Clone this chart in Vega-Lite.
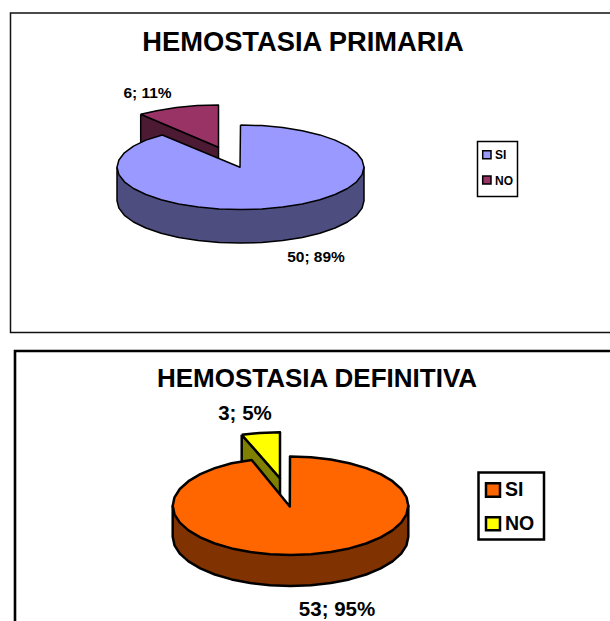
{"$schema":"https://vega.github.io/schema/vega-lite/v6.json","width":610,"height":621,"padding":0,"autosize":{"type":"fit","contains":"padding"},"background":"white","config":{"view":{"stroke":null},"axis":{"disable":true}},
"datasets":{
"frames":[{"name":"primaria","x":10.5,"x2":640,"y":13,"y2":332.5},{"name":"definitiva","x":15,"x2":640,"y":351,"y2":660}],
"legendBoxes":[{"name":"primaria","x":477.5,"x2":517.5,"y":141.5,"y2":196.5},{"name":"definitiva","x":478.5,"x2":544,"y":472.5,"y2":539.5}],
"swatches":[{"slice":"Primaria SI","x":482.7,"x2":491,"y":150.7,"y2":158.7},{"slice":"Primaria NO","x":482.7,"x2":491,"y":176,"y2":184},{"slice":"Definitiva SI","x":486,"x2":500,"y":483.3,"y2":496.7},{"slice":"Definitiva NO","x":486,"x2":500,"y":517.3,"y2":530.3}],
"texts":[
{"g":"t1","text":"HEMOSTASIA PRIMARIA","x":303,"y":43},
{"g":"t2","text":"HEMOSTASIA DEFINITIVA","x":317,"y":378.5},
{"g":"l1","text":"6; 11%","x":147.5,"y":92.5},
{"g":"l1","text":"50; 89%","x":316,"y":256.5},
{"g":"l2","text":"3; 5%","x":245,"y":414},
{"g":"l2","text":"53; 95%","x":337,"y":610},
{"g":"k1","text":"SI","x":495,"y":154.5},
{"g":"k1","text":"NO","x":495,"y":180.5},
{"g":"k2","text":"SI","x":505,"y":490},
{"g":"k2","text":"NO","x":505,"y":524}],
"pie1":[
{"face":"Primaria NO lado","i":0,"x":140.7,"y":114.3},{"face":"Primaria NO lado","i":1,"x":218.5,"y":147.3},{"face":"Primaria NO lado","i":2,"x":218.5,"y":165},{"face":"Primaria NO lado","i":3,"x":140.7,"y":150},{"face":"Primaria NO lado","i":4,"x":140.7,"y":114.3},
{"face":"Primaria NO","i":0,"x":140.7,"y":114.3},{"face":"Primaria NO","i":1,"x":156.7,"y":110.7},{"face":"Primaria NO","i":2,"x":176.3,"y":107.6},{"face":"Primaria NO","i":3,"x":197.1,"y":105.6},{"face":"Primaria NO","i":4,"x":218.5,"y":105},{"face":"Primaria NO","i":5,"x":218.5,"y":147.3},{"face":"Primaria NO","i":6,"x":140.7,"y":114.3},
{"face":"Primaria SI lado","i":0,"x":117,"y":167.3},{"face":"Primaria SI lado","i":1,"x":117,"y":200.8},{"face":"Primaria SI lado","i":2,"x":118.9,"y":208.1},{"face":"Primaria SI lado","i":3,"x":124.4,"y":215.3},{"face":"Primaria SI lado","i":4,"x":133.5,"y":222},{"face":"Primaria SI lado","i":5,"x":145.9,"y":228},{"face":"Primaria SI lado","i":6,"x":161.1,"y":233.2},{"face":"Primaria SI lado","i":7,"x":178.7,"y":237.4},{"face":"Primaria SI lado","i":8,"x":198.3,"y":240.5},{"face":"Primaria SI lado","i":9,"x":219.1,"y":242.5},{"face":"Primaria SI lado","i":10,"x":240.5,"y":243.1},{"face":"Primaria SI lado","i":11,"x":261.9,"y":242.5},{"face":"Primaria SI lado","i":12,"x":282.7,"y":240.5},{"face":"Primaria SI lado","i":13,"x":302.3,"y":237.4},{"face":"Primaria SI lado","i":14,"x":319.9,"y":233.2},{"face":"Primaria SI lado","i":15,"x":335.1,"y":228},{"face":"Primaria SI lado","i":16,"x":347.5,"y":222},{"face":"Primaria SI lado","i":17,"x":356.6,"y":215.3},{"face":"Primaria SI lado","i":18,"x":362.1,"y":208.1},{"face":"Primaria SI lado","i":19,"x":364,"y":200.8},{"face":"Primaria SI lado","i":20,"x":364,"y":167.3},{"face":"Primaria SI lado","i":21,"x":117,"y":167.3},
{"face":"Primaria SI","i":0,"x":240.5,"y":125},{"face":"Primaria SI","i":1,"x":261.9,"y":125.6},{"face":"Primaria SI","i":2,"x":282.7,"y":127.6},{"face":"Primaria SI","i":3,"x":302.3,"y":130.7},{"face":"Primaria SI","i":4,"x":319.9,"y":134.9},{"face":"Primaria SI","i":5,"x":335.1,"y":140.1},{"face":"Primaria SI","i":6,"x":347.5,"y":146.1},{"face":"Primaria SI","i":7,"x":356.6,"y":152.8},{"face":"Primaria SI","i":8,"x":362.1,"y":160},{"face":"Primaria SI","i":9,"x":364,"y":167.3},{"face":"Primaria SI","i":10,"x":362.1,"y":174.6},{"face":"Primaria SI","i":11,"x":356.6,"y":181.8},{"face":"Primaria SI","i":12,"x":347.5,"y":188.5},{"face":"Primaria SI","i":13,"x":335.1,"y":194.5},{"face":"Primaria SI","i":14,"x":319.9,"y":199.7},{"face":"Primaria SI","i":15,"x":302.3,"y":203.9},{"face":"Primaria SI","i":16,"x":282.7,"y":207},{"face":"Primaria SI","i":17,"x":261.9,"y":209},{"face":"Primaria SI","i":18,"x":240.5,"y":209.6},{"face":"Primaria SI","i":19,"x":219.1,"y":209},{"face":"Primaria SI","i":20,"x":198.3,"y":207},{"face":"Primaria SI","i":21,"x":178.7,"y":203.9},{"face":"Primaria SI","i":22,"x":161.1,"y":199.7},{"face":"Primaria SI","i":23,"x":145.9,"y":194.5},{"face":"Primaria SI","i":24,"x":133.5,"y":188.5},{"face":"Primaria SI","i":25,"x":124.4,"y":181.8},{"face":"Primaria SI","i":26,"x":118.9,"y":174.6},{"face":"Primaria SI","i":27,"x":117,"y":167.3},{"face":"Primaria SI","i":28,"x":118.9,"y":160},{"face":"Primaria SI","i":29,"x":124.4,"y":152.8},{"face":"Primaria SI","i":30,"x":133.5,"y":146.1},{"face":"Primaria SI","i":31,"x":145.9,"y":140.1},{"face":"Primaria SI","i":32,"x":162.3,"y":135},{"face":"Primaria SI","i":33,"x":240,"y":167.3},{"face":"Primaria SI","i":34,"x":240.5,"y":125}],
"pie2":[
{"face":"Definitiva NO lado","i":0,"x":241.7,"y":434.7},{"face":"Definitiva NO lado","i":1,"x":280,"y":478.3},{"face":"Definitiva NO lado","i":2,"x":280,"y":500},{"face":"Definitiva NO lado","i":3,"x":241.7,"y":470},{"face":"Definitiva NO lado","i":4,"x":241.7,"y":434.7},
{"face":"Definitiva NO","i":0,"x":241.7,"y":434.7},{"face":"Definitiva NO","i":1,"x":259.5,"y":433},{"face":"Definitiva NO","i":2,"x":280,"y":432.3},{"face":"Definitiva NO","i":3,"x":280,"y":478.3},{"face":"Definitiva NO","i":4,"x":241.7,"y":434.7},
{"face":"Definitiva SI lado","i":0,"x":172.7,"y":505.8},{"face":"Definitiva SI lado","i":1,"x":172.7,"y":536.8},{"face":"Definitiva SI lado","i":2,"x":174.5,"y":545.3},{"face":"Definitiva SI lado","i":3,"x":179.8,"y":553.6},{"face":"Definitiva SI lado","i":4,"x":188.5,"y":561.4},{"face":"Definitiva SI lado","i":5,"x":200.3,"y":568.4},{"face":"Definitiva SI lado","i":6,"x":214.8,"y":574.5},{"face":"Definitiva SI lado","i":7,"x":231.6,"y":579.4},{"face":"Definitiva SI lado","i":8,"x":250.2,"y":583},{"face":"Definitiva SI lado","i":9,"x":270,"y":585.3},{"face":"Definitiva SI lado","i":10,"x":290.5,"y":586},{"face":"Definitiva SI lado","i":11,"x":311,"y":585.3},{"face":"Definitiva SI lado","i":12,"x":330.8,"y":583},{"face":"Definitiva SI lado","i":13,"x":349.4,"y":579.4},{"face":"Definitiva SI lado","i":14,"x":366.2,"y":574.5},{"face":"Definitiva SI lado","i":15,"x":380.7,"y":568.4},{"face":"Definitiva SI lado","i":16,"x":392.5,"y":561.4},{"face":"Definitiva SI lado","i":17,"x":401.2,"y":553.6},{"face":"Definitiva SI lado","i":18,"x":406.5,"y":545.3},{"face":"Definitiva SI lado","i":19,"x":408.3,"y":536.8},{"face":"Definitiva SI lado","i":20,"x":408.3,"y":505.8},{"face":"Definitiva SI lado","i":21,"x":172.7,"y":505.8},
{"face":"Definitiva SI","i":0,"x":290.5,"y":456.6},{"face":"Definitiva SI","i":1,"x":311,"y":457.3},{"face":"Definitiva SI","i":2,"x":330.8,"y":459.6},{"face":"Definitiva SI","i":3,"x":349.4,"y":463.2},{"face":"Definitiva SI","i":4,"x":366.2,"y":468.1},{"face":"Definitiva SI","i":5,"x":380.7,"y":474.2},{"face":"Definitiva SI","i":6,"x":392.5,"y":481.2},{"face":"Definitiva SI","i":7,"x":401.2,"y":489},{"face":"Definitiva SI","i":8,"x":406.5,"y":497.3},{"face":"Definitiva SI","i":9,"x":408.3,"y":505.8},{"face":"Definitiva SI","i":10,"x":406.5,"y":514.3},{"face":"Definitiva SI","i":11,"x":401.2,"y":522.6},{"face":"Definitiva SI","i":12,"x":392.5,"y":530.4},{"face":"Definitiva SI","i":13,"x":380.7,"y":537.4},{"face":"Definitiva SI","i":14,"x":366.2,"y":543.5},{"face":"Definitiva SI","i":15,"x":349.4,"y":548.4},{"face":"Definitiva SI","i":16,"x":330.8,"y":552},{"face":"Definitiva SI","i":17,"x":311,"y":554.3},{"face":"Definitiva SI","i":18,"x":290.5,"y":555},{"face":"Definitiva SI","i":19,"x":270,"y":554.3},{"face":"Definitiva SI","i":20,"x":250.2,"y":552},{"face":"Definitiva SI","i":21,"x":231.6,"y":548.4},{"face":"Definitiva SI","i":22,"x":214.8,"y":543.5},{"face":"Definitiva SI","i":23,"x":200.3,"y":537.4},{"face":"Definitiva SI","i":24,"x":188.5,"y":530.4},{"face":"Definitiva SI","i":25,"x":179.8,"y":522.6},{"face":"Definitiva SI","i":26,"x":174.5,"y":514.3},{"face":"Definitiva SI","i":27,"x":172.7,"y":505.8},{"face":"Definitiva SI","i":28,"x":174.5,"y":497.3},{"face":"Definitiva SI","i":29,"x":179.8,"y":489},{"face":"Definitiva SI","i":30,"x":188.5,"y":481.2},{"face":"Definitiva SI","i":31,"x":200.3,"y":474.2},{"face":"Definitiva SI","i":32,"x":214.8,"y":468.1},{"face":"Definitiva SI","i":33,"x":231.6,"y":463.2},{"face":"Definitiva SI","i":34,"x":251.7,"y":460},{"face":"Definitiva SI","i":35,"x":289.8,"y":506.5},{"face":"Definitiva SI","i":36,"x":290,"y":456.6},{"face":"Definitiva SI","i":37,"x":290.5,"y":456.6}]
},
"encoding":{
"x":{"field":"x","type":"quantitative","scale":{"domain":[0,610],"nice":false,"zero":false},"axis":null},
"y":{"field":"y","type":"quantitative","scale":{"domain":[0,621],"reverse":true,"nice":false,"zero":false},"axis":null}
},
"resolve":{"scale":{"fill":"shared"}},
"layer":[
{"data":{"name":"frames"},"transform":[{"filter":"datum.name=='primaria'"}],"mark":{"type":"rect","fill":"white","stroke":"#111","strokeWidth":1.5,"clip":true},"encoding":{"x2":{"field":"x2"},"y2":{"field":"y2"}}},
{"data":{"name":"frames"},"transform":[{"filter":"datum.name=='definitiva'"}],"mark":{"type":"rect","fill":"white","stroke":"#000","strokeWidth":2.6,"clip":true},"encoding":{"x2":{"field":"x2"},"y2":{"field":"y2"}}},
{"data":{"name":"pie1"},"mark":{"type":"line","filled":true,"stroke":"#000","strokeWidth":1.5,"strokeJoin":"round"},"encoding":{"order":{"field":"i","type":"quantitative"},"detail":{"field":"face"},"fill":{"field":"face","type":"nominal","legend":null,"scale":{"domain":["Primaria SI","Primaria SI lado","Primaria NO","Primaria NO lado","Definitiva SI","Definitiva SI lado","Definitiva NO","Definitiva NO lado"],"range":["#9999FF","#4D4D80","#993366","#4D1A33","#FF6600","#803300","#FFFF00","#808000"]}}}},
{"data":{"name":"pie2"},"mark":{"type":"line","filled":true,"stroke":"#000","strokeWidth":2.5,"strokeJoin":"round"},"encoding":{"order":{"field":"i","type":"quantitative"},"detail":{"field":"face"},"fill":{"field":"face","type":"nominal","legend":null}}},
{"data":{"name":"legendBoxes"},"transform":[{"filter":"datum.name=='primaria'"}],"mark":{"type":"rect","fill":"white","stroke":"#000","strokeWidth":1.5},"encoding":{"x2":{"field":"x2"},"y2":{"field":"y2"}}},
{"data":{"name":"legendBoxes"},"transform":[{"filter":"datum.name=='definitiva'"}],"mark":{"type":"rect","fill":"white","stroke":"#000","strokeWidth":2.5},"encoding":{"x2":{"field":"x2"},"y2":{"field":"y2"}}},
{"data":{"name":"swatches"},"transform":[{"filter":"indexof(datum.slice,'Primaria')==0"}],"mark":{"type":"rect","stroke":"#000","strokeWidth":1.5},"encoding":{"x2":{"field":"x2"},"y2":{"field":"y2"},"fill":{"field":"slice","type":"nominal","legend":null}}},
{"data":{"name":"swatches"},"transform":[{"filter":"indexof(datum.slice,'Definitiva')==0"}],"mark":{"type":"rect","stroke":"#000","strokeWidth":2.5},"encoding":{"x2":{"field":"x2"},"y2":{"field":"y2"},"fill":{"field":"slice","type":"nominal","legend":null}}},
{"data":{"name":"texts"},"transform":[{"filter":"datum.g=='t1'"}],"mark":{"type":"text","font":"Liberation Sans","fontWeight":"bold","fontSize":27.3,"align":"center","baseline":"middle","color":"#000"},"encoding":{"text":{"field":"text"}}},
{"data":{"name":"texts"},"transform":[{"filter":"datum.g=='t2'"}],"mark":{"type":"text","font":"Liberation Sans","fontWeight":"bold","fontSize":26,"align":"center","baseline":"middle","color":"#000"},"encoding":{"text":{"field":"text"}}},
{"data":{"name":"texts"},"transform":[{"filter":"datum.g=='l1'"}],"mark":{"type":"text","font":"Liberation Sans","fontWeight":"bold","fontSize":15.5,"align":"center","baseline":"middle","color":"#000"},"encoding":{"text":{"field":"text"}}},
{"data":{"name":"texts"},"transform":[{"filter":"datum.g=='l2'"}],"mark":{"type":"text","font":"Liberation Sans","fontWeight":"bold","fontSize":20.5,"align":"center","baseline":"middle","color":"#000"},"encoding":{"text":{"field":"text"}}},
{"data":{"name":"texts"},"transform":[{"filter":"datum.g=='k1'"}],"mark":{"type":"text","font":"Liberation Sans","fontWeight":"bold","fontSize":12,"align":"left","baseline":"middle","color":"#000"},"encoding":{"text":{"field":"text"}}},
{"data":{"name":"texts"},"transform":[{"filter":"datum.g=='k2'"}],"mark":{"type":"text","font":"Liberation Sans","fontWeight":"bold","fontSize":19.5,"align":"left","baseline":"middle","color":"#000"},"encoding":{"text":{"field":"text"}}}
]}
